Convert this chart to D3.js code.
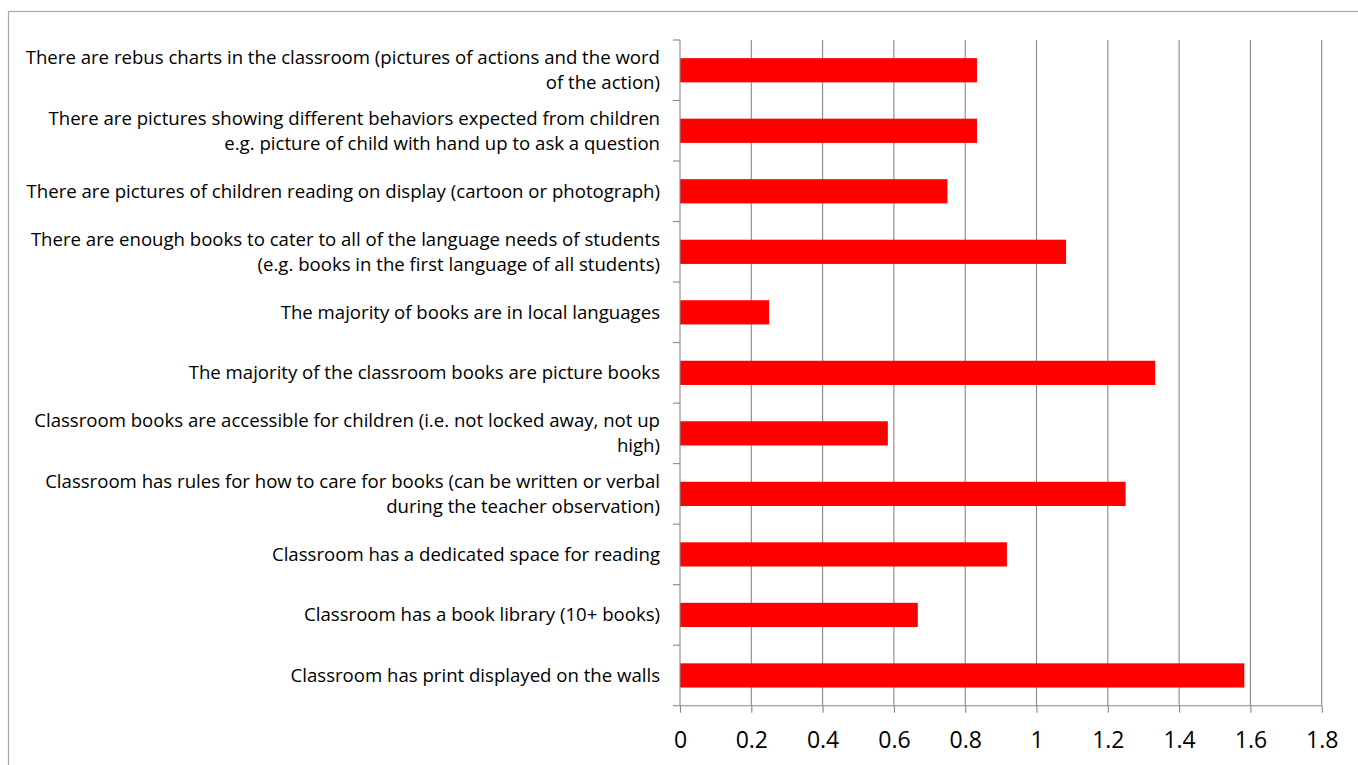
<!DOCTYPE html>
<html><head><meta charset="utf-8">
<script src="https://cdn.jsdelivr.net/npm/d3@7"></script>
<style>
html,body{margin:0;padding:0;background:#fff;}
svg{display:block;}
text{font-family:"Open Sans",sans-serif;fill:#000;}
</style></head>
<body><svg id="c" width="1358" height="765"></svg>
<script>
const categories = [
  "There are rebus charts in the classroom (pictures of actions and the word\nof the action)",
  "There are pictures showing different behaviors expected from children\ne.g. picture of child with hand up to ask a question",
  "There are pictures of children reading on display (cartoon or photograph)",
  "There are enough books to cater to all of the language needs of students\n(e.g. books in the first language of all students)",
  "The majority of books are in local languages",
  "The majority of the classroom books are picture books",
  "Classroom books are accessible for children (i.e. not locked away, not up\nhigh)",
  "Classroom has rules for how to care for books (can be written or verbal\nduring the teacher observation)",
  "Classroom has a dedicated space for reading",
  "Classroom has a book library (10+ books)",
  "Classroom has print displayed on the walls"
];
const values = [0.833, 0.833, 0.75, 1.083, 0.25, 1.333, 0.583, 1.25, 0.917, 0.667, 1.583];
const xTicks = [0, 0.2, 0.4, 0.6, 0.8, 1, 1.2, 1.4, 1.6, 1.8];

(function () {
const svg = d3.select("#c");
const pL = 680, pR = 1321.7, pT = 40, pB = 705.7;

// frame
svg.append("rect").attr("x", 8.5).attr("y", 11.5).attr("width", 1400).attr("height", 800)
  .attr("fill", "none").attr("stroke", "#a6a6a6").attr("stroke-width", 1.2);

const x = d3.scaleLinear().domain([0, 1.8]).range([pL, pR]);
const y = d3.scaleBand().domain(categories).range([pT, pB]).paddingInner(0.6).paddingOuter(0.3);

// gridlines
svg.append("g").selectAll("line").data(xTicks.slice(1)).join("line")
  .attr("x1", d => x(d)).attr("x2", d => x(d)).attr("y1", pT).attr("y2", pB)
  .attr("stroke", "#888").attr("stroke-width", 1.1);

// bars
svg.append("g").selectAll("rect").data(values).join("rect")
  .attr("x", x(0)).attr("y", (d, i) => y(categories[i]))
  .attr("width", d => x(d) - x(0)).attr("height", y.bandwidth())
  .attr("fill", "#ff0000");

// x axis
const xAxis = d3.axisBottom(x).tickValues(xTicks).tickSize(7).tickPadding(19).tickFormat(d => String(d));
const gx = svg.append("g").attr("transform", `translate(0,${pB})`).call(xAxis);
gx.select(".domain").attr("stroke", "#888").attr("stroke-width", 1.1).attr("d", `M${pL},0H${pR}`);
gx.selectAll(".tick line").attr("stroke", "#888").attr("stroke-width", 1.1);
gx.selectAll(".tick text").attr("font-family", "Open Sans").attr("font-size", 23).attr("fill", "#000");

// y axis line + ticks at band boundaries
const bounds = d3.range(categories.length + 1).map(i => pT + i * (pB - pT) / categories.length);
svg.append("line").attr("x1", pL).attr("x2", pL).attr("y1", pT).attr("y2", pB)
  .attr("stroke", "#888").attr("stroke-width", 1.1);
svg.append("g").selectAll("line").data(bounds).join("line")
  .attr("x1", pL - 7).attr("x2", pL).attr("y1", d => d).attr("y2", d => d)
  .attr("stroke", "#888").attr("stroke-width", 1.1);

// category labels
const lh = 25;
const lab = svg.append("g").selectAll("text").data(categories).join("text")
  .attr("text-anchor", "end").attr("font-size", 18.6)
  .attr("transform", d => `translate(660,${y(d) + y.bandwidth() / 2})`);
lab.each(function (d) {
  const lines = d.split("\n");
  const t = d3.select(this);
  lines.forEach((ln, k) => {
    t.append("tspan").attr("x", 0).attr("y", (k - (lines.length - 1) / 2) * lh).attr("dy", "0.35em").text(ln);
  });
});
})();
</script></body></html>
